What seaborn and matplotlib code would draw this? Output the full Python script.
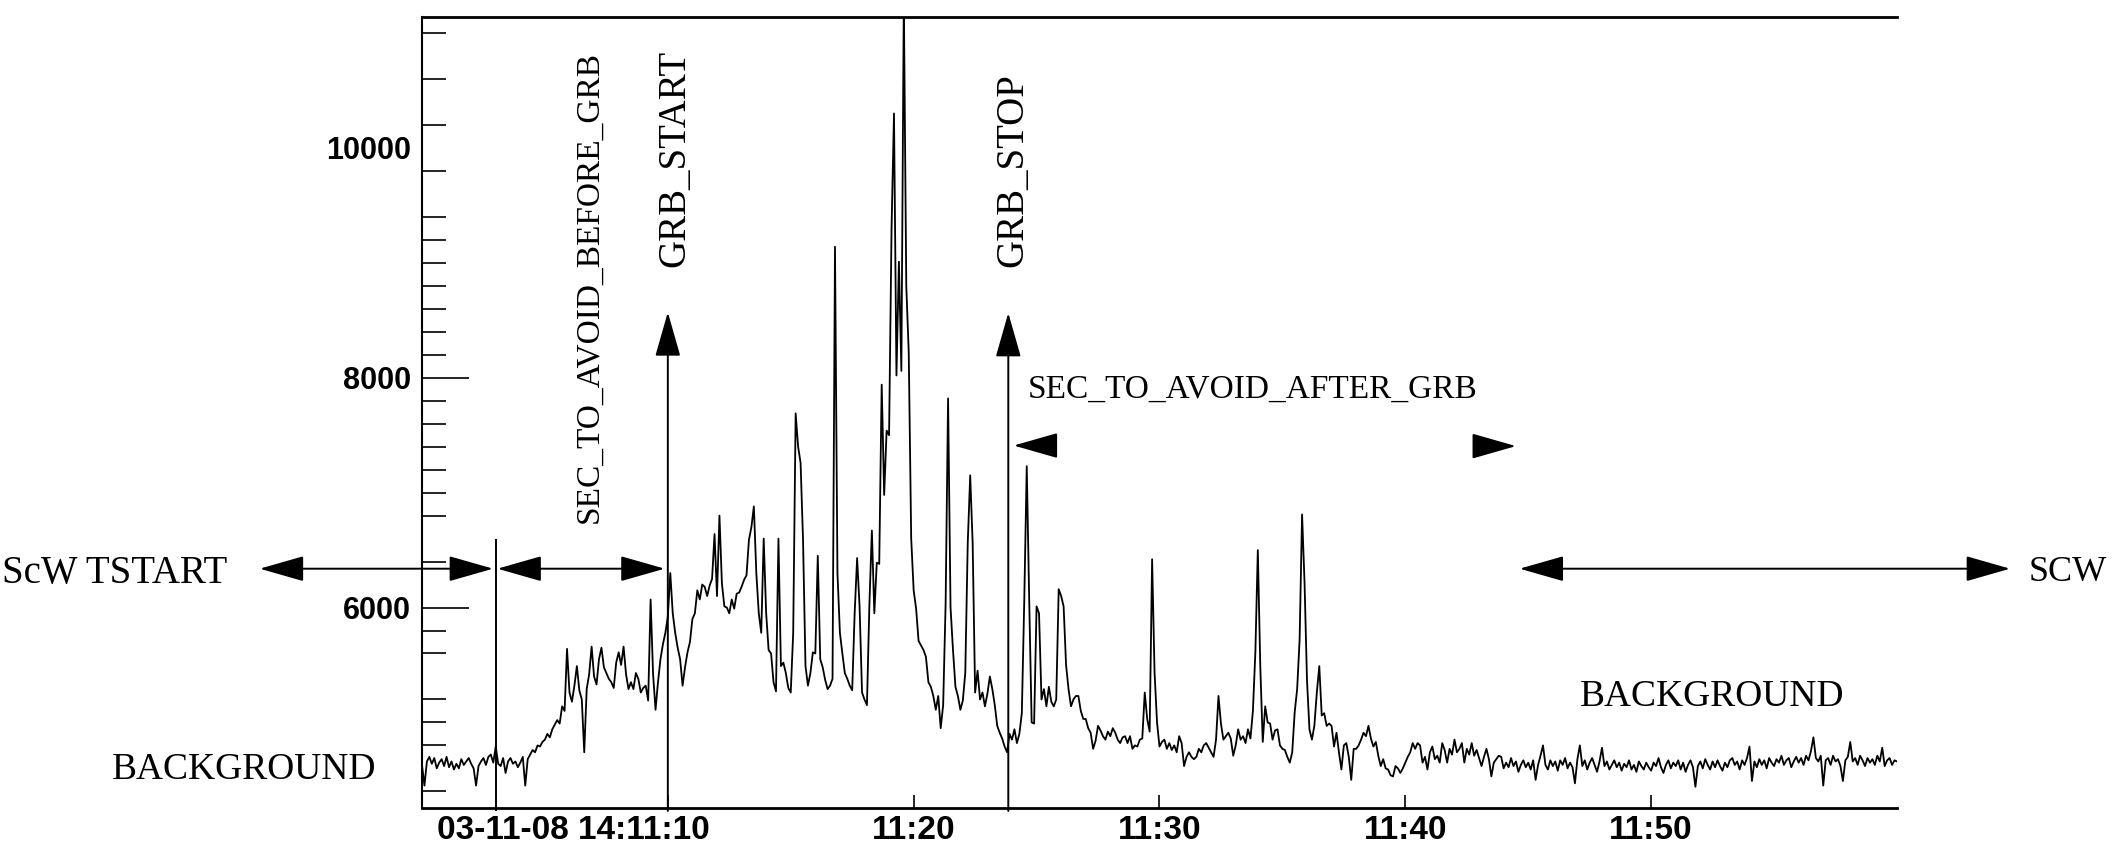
import numpy as np
import pandas as pd
import matplotlib
matplotlib.use("Agg")
import matplotlib.pyplot as plt
import matplotlib.transforms as mtransforms
import seaborn as sns

# ---------------- data (light curve, 0.1-min bins starting 11:00) ----------------
bin_start_min = 0.0
bin_width_min = 0.1
counts = [
    4630, 4450, 4660, 4700, 4640, 4690, 4600, 4650, 4680, 4620,
    4700, 4610, 4660, 4590, 4640, 4600, 4680, 4630, 4660, 4690,
    4640, 4600, 4450, 4620, 4660, 4690, 4630, 4700, 4720, 4650,
    4790, 4640, 4620, 4690, 4560, 4660, 4690, 4640, 4660, 4610,
    4650, 4700, 4450, 4680, 4720, 4760, 4740, 4800, 4790, 4830,
    4850, 4900, 4870, 4940, 4980, 5020, 4990, 5140, 5100, 5640,
    5260, 5180, 5320, 5490, 5280, 5200, 4740, 5290, 5420, 5660,
    5400, 5330, 5550, 5650, 5480, 5430, 5380, 5350, 5300, 5520,
    5610, 5500, 5660, 5420, 5290, 5350, 5290, 5430, 5380, 5260,
    5300, 5320, 5190, 6070, 5420, 5110, 5350, 5550, 5680, 5780,
    5920, 6300, 5950, 5780, 5650, 5550, 5320, 5480, 5610, 5700,
    5900, 5950, 6150, 6070, 6200, 6180, 6100, 6190, 6250, 6640,
    6100, 6800, 6210, 6010, 6000, 5950, 6070, 5990, 6120, 6130,
    6180, 6240, 6280, 6590, 6700, 6880, 6300, 5950, 5780, 6600,
    5950, 5630, 5600, 5350, 5270, 6600, 5490, 5520, 5430, 5300,
    5260, 5780, 7690, 7400, 7260, 6590, 5490, 5320, 5430, 5610,
    5600, 6450, 5550, 5480, 5370, 5290, 5320, 5380, 9140, 6300,
    5780, 5600, 5430, 5380, 5320, 5280, 5950, 6430, 6010, 5260,
    5200, 5150, 6030, 6670, 5950, 6390, 6380, 7940, 6980, 7540,
    7500, 9290, 10300, 8020, 9010, 8060, 11300, 8800, 8220, 6600,
    6150, 5990, 5710, 5670, 5630, 5570, 5350, 5310, 5230, 5110,
    5230, 4950, 5150, 6030, 7820, 6000, 5630, 5310, 5230, 5110,
    5190, 5430, 6560, 7150, 6560, 5260, 5450, 5200, 5260, 5140,
    5250, 5400, 5290, 5150, 4970, 4910, 4860, 4790, 4740, 4900,
    4850, 4940, 4820, 4900, 5080, 6070, 7230, 6070, 5000, 4990,
    6010, 5950, 5200, 5290, 5140, 5310, 5180, 5140, 5200, 6160,
    6100, 6010, 5500, 5290, 5140, 5200, 5230, 5230, 5100, 5030,
    5030, 4950, 4910, 4770, 4840, 4970, 4930, 4880, 4850, 4920,
    4880, 4950, 4910, 4850, 4820, 4870, 4880, 4820, 4880, 4770,
    4800, 4790, 4850, 4860, 5260, 5030, 4920, 6420, 5430, 5000,
    4790, 4830, 4850, 4770, 4820, 4760, 4800, 4740, 4880, 4820,
    4620, 4700, 4740, 4700, 4680, 4700, 4770, 4740, 4800, 4820,
    4780, 4740, 4700, 4850, 5230, 4990, 4850, 4880, 4910, 4860,
    4710, 4800, 4940, 4850, 4880, 4820, 4940, 4860, 5100, 5610,
    6500, 5490, 4830, 5140, 5000, 4990, 4850, 4930, 4940, 4800,
    4770, 4760, 4700, 4650, 4740, 5090, 5290, 5720, 6810, 6220,
    5370, 4940, 4850, 4970, 5260, 5490, 5060, 5080, 4970, 4990,
    4970, 4790, 4910, 4740, 4590, 4800, 4820, 4700, 4500, 4770,
    4770, 4800, 4850, 4910, 4880, 4970, 4860, 4790, 4830, 4710,
    4620, 4680, 4600, 4590, 4540, 4530, 4620, 4600, 4560, 4600,
    4650, 4700, 4740, 4820, 4770, 4820, 4800, 4650, 4700, 4590,
    4740, 4790, 4680, 4710, 4650, 4820, 4760, 4650, 4770, 4720,
    4850, 4740, 4770, 4820, 4650, 4770, 4720, 4820, 4710, 4760,
    4690, 4620, 4700, 4770, 4680, 4530, 4650, 4680, 4710, 4700,
    4600, 4650, 4610, 4690, 4620, 4660, 4570, 4630, 4670, 4610,
    4650, 4590, 4670, 4500, 4630, 4710, 4800, 4630, 4590, 4670,
    4620, 4660, 4580, 4670, 4630, 4690, 4600, 4650, 4610, 4470,
    4680, 4800, 4620, 4670, 4590, 4650, 4690, 4630, 4570, 4660,
    4780, 4620, 4660, 4590, 4630, 4670, 4610, 4650, 4580, 4640,
    4610, 4670, 4590, 4630, 4570, 4660, 4620, 4590, 4650, 4610,
    4580, 4650, 4620, 4690, 4610, 4560, 4630, 4670, 4600, 4650,
    4620, 4670, 4590, 4650, 4570, 4630, 4670, 4610, 4440, 4620,
    4660, 4600, 4680, 4630, 4590, 4660, 4610, 4670, 4620, 4580,
    4650, 4610, 4670, 4690, 4630, 4660, 4590, 4670, 4630, 4690,
    4790, 4490, 4660, 4610, 4680, 4630, 4670, 4600, 4690, 4650,
    4620, 4680, 4650, 4710, 4630, 4670, 4690, 4610, 4660, 4700,
    4650, 4690, 4630, 4710, 4670, 4750, 4870, 4690, 4660, 4710,
    4450, 4670, 4690, 4630, 4710, 4660, 4680, 4620, 4490, 4670,
    4700, 4830, 4660, 4690, 4630, 4710, 4670, 4620, 4690, 4650,
    4680, 4630, 4710, 4660, 4780, 4620, 4670, 4690, 4630, 4670,
    4660,
]

x_tick_minutes = [10, 20, 30, 40, 50]
x_tick_labels = ["03-11-08 14:11:10", "11:20", "11:30", "11:40", "11:50"]
y_major_ticks = [6000, 8000, 10000]
y_major_labels = ["6000", "8000", "10000"]
y_minor_ticks = [4400, 4800, 5000, 5200, 5600, 5800, 6400, 6800, 7000, 7200,
                 7400, 7600, 7800, 8200, 8400, 8600, 8800, 9000, 9200, 9400,
                 9800, 10200, 10600, 11000]

# event times (minutes after 11:00)
scw_marker_min = 3.03
grb_start_min = 10.0
grb_stop_min = 23.85

# ---------------- figure ----------------
sns.set_theme(style="white")
plt.rcParams['font.family'] = ['Liberation Sans', 'DejaVu Sans']
serif = ['Liberation Serif', 'DejaVu Serif']

fig = plt.figure(figsize=(21.18, 8.5), dpi=100, facecolor="white")
ax = fig.add_axes([0.19924, 0.04941, 0.69641, 0.93059])
ax.set_facecolor("white")

minutes = bin_start_min + bin_width_min * np.arange(len(counts))
df = pd.DataFrame({"minutes": minutes, "counts": counts})
sns.lineplot(data=df, x="minutes", y="counts", ax=ax, color="black",
             linewidth=1.3, estimator=None, sort=False)

ax.set_xlim(0, 60)
ax.set_ylim(4255, 11140)
ax.set_xlabel("")
ax.set_ylabel("")

for side in ["top", "bottom", "left"]:
    ax.spines[side].set_visible(True)
    ax.spines[side].set_color("black")
ax.spines["top"].set_linewidth(2.0)
ax.spines["bottom"].set_linewidth(2.0)
ax.spines["left"].set_linewidth(1.5)
ax.spines["right"].set_visible(False)

ax.set_xticks(x_tick_minutes)
ax.set_xticklabels(x_tick_labels)
ax.set_yticks(y_major_ticks)
ax.set_yticklabels(y_major_labels)
ax.set_yticks(y_minor_ticks, minor=True)
ax.tick_params(axis='x', which='major', direction='in', length=9.5, width=1.2,
               pad=5, labelsize=24, colors='black', bottom=True, top=False)
ax.tick_params(axis='x', which='minor', bottom=False, top=False)
ax.tick_params(axis='y', which='major', direction='in', length=34, width=1.2,
               pad=8, labelsize=22, colors='black', left=True, right=False)
ax.tick_params(axis='y', which='minor', direction='in', length=17.6, width=1.2,
               colors='black', left=True, right=False)
for lbl in ax.get_xticklabels() + ax.get_yticklabels():
    lbl.set_fontweight('bold')
ax.yaxis.get_major_ticks()[2].tick1line.set_visible(False)

# first x label: "11:10" part centred on its tick
renderer = fig.canvas.get_renderer()
tmp = fig.text(0, 0, "11:10", fontsize=24, fontweight='bold')
half_w = tmp.get_window_extent(renderer).width / 2.0
tmp.remove()
first = ax.xaxis.get_major_ticks()[0].label1
first.set_horizontalalignment('right')
first.set_transform(first.get_transform() +
                    mtransforms.ScaledTranslation(half_w / fig.dpi, 0, fig.dpi_scale_trans))

# ---------------- annotations ----------------
head = "head_length=2.8,head_width=0.8"
akw = dict(color='black', lw=1.4, shrinkA=0, shrinkB=0, mutation_scale=10)
line_y = 6338

ax.annotate("", xy=(-6.6, line_y), xytext=(2.89, line_y),
            arrowprops=dict(arrowstyle="<|-|>," + head, **akw), annotation_clip=False)
ax.annotate("", xy=(3.07, line_y), xytext=(9.87, line_y),
            arrowprops=dict(arrowstyle="<|-|>," + head, **akw), annotation_clip=False)
ax.annotate("", xy=(44.65, line_y), xytext=(64.6, line_y),
            arrowprops=dict(arrowstyle="<|-|>," + head, **akw), annotation_clip=False)

# SEC_TO_AVOID_AFTER arrowheads
ax.annotate("", xy=(24.07, 7410), xytext=(25.62, 7410),
            arrowprops=dict(arrowstyle="-|>," + head, **akw), annotation_clip=False)
ax.annotate("", xy=(44.5, 7405), xytext=(42.95, 7405),
            arrowprops=dict(arrowstyle="-|>," + head, **akw), annotation_clip=False)

# GRB start / stop vertical arrows
ax.annotate("", xy=(grb_start_min, 8570), xytext=(grb_start_min, 4230),
            arrowprops=dict(arrowstyle="-|>," + head, **akw), annotation_clip=False)
ax.annotate("", xy=(grb_stop_min, 8564), xytext=(grb_stop_min, 4230),
            arrowprops=dict(arrowstyle="-|>," + head, **akw), annotation_clip=False)

ax.vlines(scw_marker_min, 4230, 6597, color='black', lw=1.4, clip_on=False)

ax.text(-17.09, line_y, "ScW TSTART", ha='left', va='center_baseline',
        fontsize=28, family=serif, color='black', clip_on=False)
ax.text(65.35, line_y, "SCW", ha='left', va='center_baseline',
        fontsize=26, family=serif, color='black', clip_on=False)
ax.text(-7.24, 4620, "BACKGROUND", ha='center', va='center_baseline',
        fontsize=27, family=serif, color='black', clip_on=False)
ax.text(52.48, 5260, "BACKGROUND", ha='center', va='center_baseline',
        fontsize=27, family=serif, color='black')
ax.text(6.68, 6739, "SEC_TO_AVOID_BEFORE_GRB", rotation=90, rotation_mode='anchor',
        ha='left', va='center_baseline', fontsize=24, family=serif, color='black')
ax.text(10.12, 8965, "GRB_START", rotation=90, rotation_mode='anchor',
        ha='left', va='center_baseline', fontsize=28, family=serif, color='black')
ax.text(grb_stop_min, 8965, "GRB_STOP", rotation=90, rotation_mode='anchor',
        ha='left', va='center_baseline', fontsize=28, family=serif, color='black')
ax.text(24.66, 7924, "SEC_TO_AVOID_AFTER_GRB", ha='left', va='center_baseline',
        fontsize=24, family=serif, color='black')

fig.savefig("out.png", dpi=100, facecolor="white")
